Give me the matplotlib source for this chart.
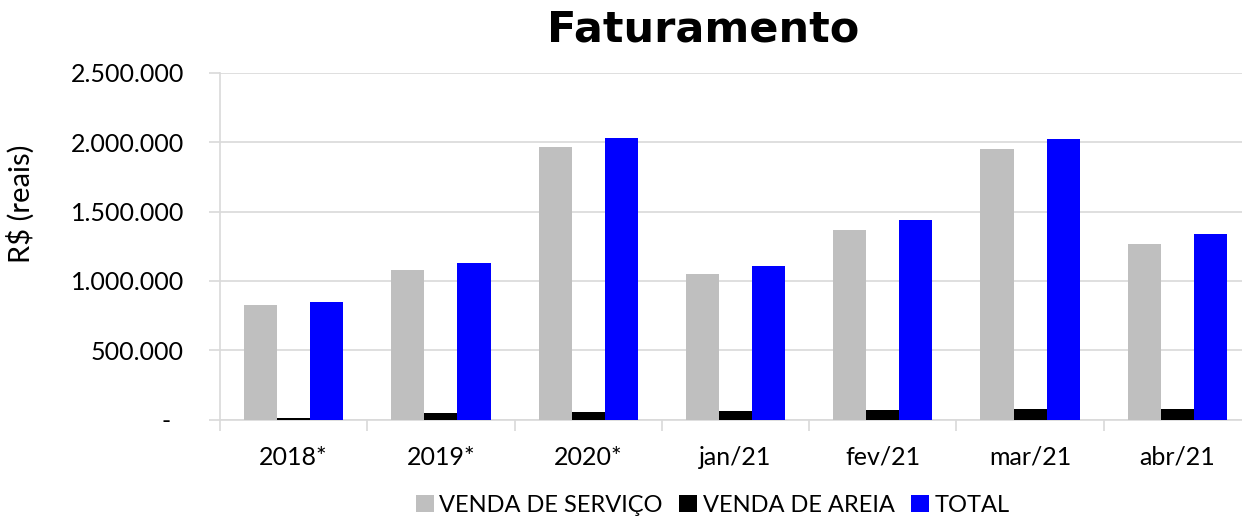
import matplotlib
matplotlib.use("Agg")
import matplotlib.pyplot as plt
from matplotlib.patches import Patch
from matplotlib.ticker import FuncFormatter, FixedLocator
import numpy as np

categories = ["2018*", "2019*", "2020*", "jan/21", "fev/21", "mar/21", "abr/21"]
venda_servico = [825000, 1077000, 1965000, 1048000, 1366000, 1951000, 1264000]
venda_areia = [8000, 48000, 56000, 62000, 70000, 76000, 76000]
total = [845000, 1127000, 2028000, 1105000, 1438000, 2023000, 1337000]
series_names = ["VENDA DE SERVIÇO", "VENDA DE AREIA", "TOTAL"]
colors = ["#bfbfbf", "#000000", "#0000ff"]

plt.rcParams['font.family'] = ['Lato', 'DejaVu Sans']

fig = plt.figure(figsize=(12.42, 5.17), dpi=100)
ax = fig.add_axes([220/1242, 1-419.5/517, (1251-220)/1242, (419.5-73)/517])

x = np.arange(len(categories))
w = 33/147
for i, (vals, c) in enumerate(zip([venda_servico, venda_areia, total], colors)):
    ax.bar(x + (i-1)*w, vals, width=w, color=c, zorder=3)

ax.set_xlim(-0.5, len(categories)-0.5)
ax.set_ylim(0, 2500000)
ax.set_yticks(np.arange(0, 2500001, 500000))

def fmt(v, pos):
    if v == 0:
        return "-  "
    return f"{int(v):,}".replace(",", ".")
ax.yaxis.set_major_formatter(FuncFormatter(fmt))

ax.set_xticks(x)
ax.set_xticklabels(categories)
ax.xaxis.set_minor_locator(FixedLocator(np.arange(-0.5, len(categories), 1.0)))
ax.tick_params(axis='x', which='major', length=0, pad=19, labelsize=18)
ax.tick_params(axis='x', which='minor', length=8, color='#d9d9d9', width=1.2)
ax.tick_params(axis='y', length=8, color='#d9d9d9', width=1.2, pad=18, labelsize=18)

ax.grid(axis='y', color='#d9d9d9', linewidth=1.2, zorder=0)
for s in ['top', 'right']:
    ax.spines[s].set_visible(False)
for s in ['left', 'bottom']:
    ax.spines[s].set_color('#d9d9d9')
    ax.spines[s].set_linewidth(1.2)

ax.set_ylabel("R$ (reais)", fontsize=21)
ax.yaxis.set_label_coords(-0.180, 0.622)

fig.text(703/1242, 1-30/517, "Faturamento", ha='center', va='center',
         fontsize=31, fontweight='bold', family=['DejaVu Sans'])

handles = [Patch(facecolor=c, edgecolor='none') for c in colors]
fig.legend(handles, series_names, loc='center', bbox_to_anchor=(713/1242, 1-505/517),
           ncol=3, frameon=False, fontsize=17, handlelength=0.75, handleheight=0.75,
           handletextpad=0.25, columnspacing=0.7, borderaxespad=0)

fig.savefig("out.png", dpi=100)
